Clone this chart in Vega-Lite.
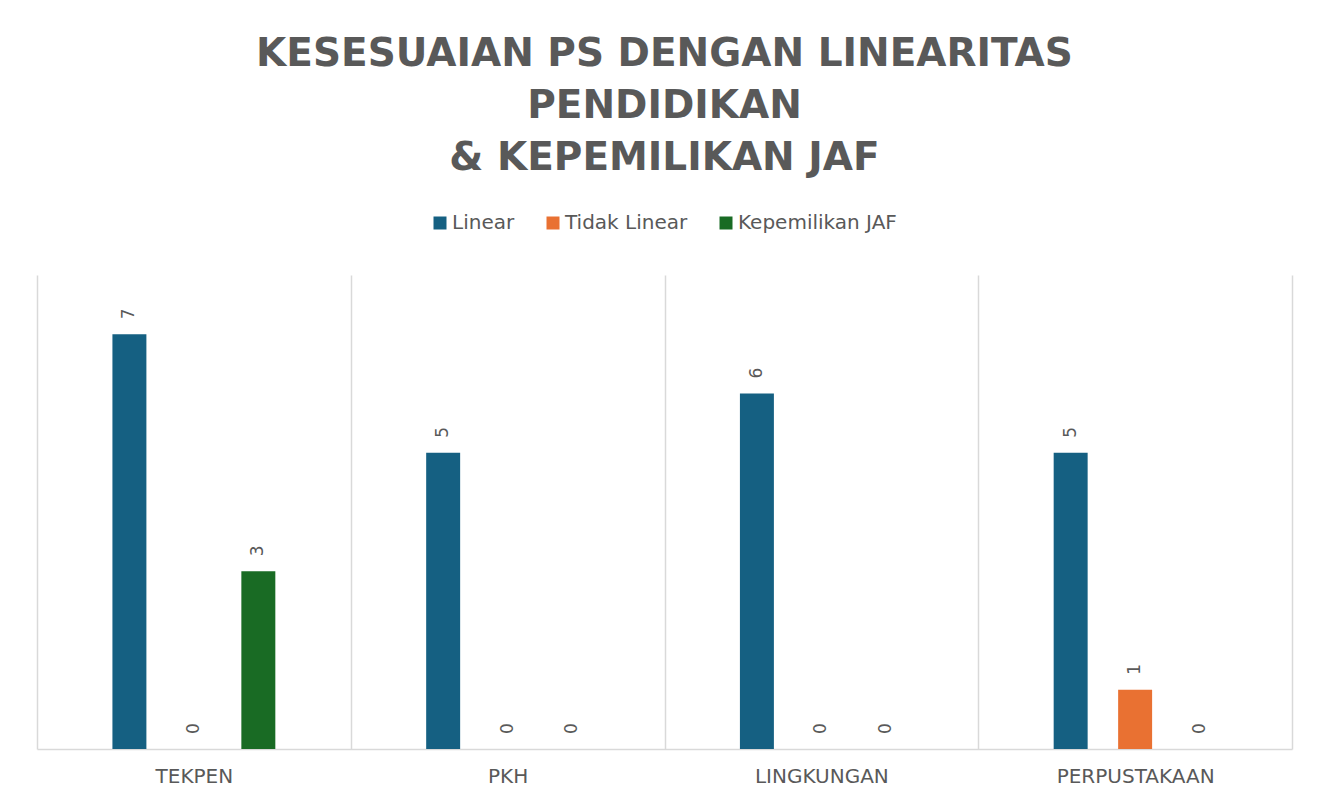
{
  "$schema": "https://vega.github.io/schema/vega-lite/v6.json",
  "width": 1255,
  "height": 474,
  "autosize": {"type": "none"},
  "padding": {"left": 37, "top": 275, "right": 35, "bottom": 53},
  "background": "white",
  "title": {
    "text": ["KESESUAIAN PS DENGAN LINEARITAS", "PENDIDIKAN", "& KEPEMILIKAN JAF"],
    "font": "DejaVu Sans",
    "fontSize": 39,
    "fontWeight": "bold",
    "color": "#595959",
    "lineHeight": 52,
    "anchor": "middle",
    "offset": 35
  },
  "config": {"view": {"stroke": null}},
  "data": {
    "values": [
      {"category": "TEKPEN", "series": "Linear", "value": 7},
      {"category": "TEKPEN", "series": "Tidak Linear", "value": 0},
      {"category": "TEKPEN", "series": "Kepemilikan JAF", "value": 3},
      {"category": "PKH", "series": "Linear", "value": 5},
      {"category": "PKH", "series": "Tidak Linear", "value": 0},
      {"category": "PKH", "series": "Kepemilikan JAF", "value": 0},
      {"category": "LINGKUNGAN", "series": "Linear", "value": 6},
      {"category": "LINGKUNGAN", "series": "Tidak Linear", "value": 0},
      {"category": "LINGKUNGAN", "series": "Kepemilikan JAF", "value": 0},
      {"category": "PERPUSTAKAAN", "series": "Linear", "value": 5},
      {"category": "PERPUSTAKAAN", "series": "Tidak Linear", "value": 1},
      {"category": "PERPUSTAKAAN", "series": "Kepemilikan JAF", "value": 0}
    ]
  },
  "encoding": {
    "x": {
      "field": "category",
      "type": "nominal",
      "sort": ["TEKPEN", "PKH", "LINGKUNGAN", "PERPUSTAKAAN"],
      "scale": {"paddingInner": 0, "paddingOuter": 0},
      "axis": {
        "title": null,
        "labelAngle": 0,
        "ticks": false,
        "tickBand": "extent",
        "grid": true,
        "gridColor": "#d9d9d9",
        "gridWidth": 1.5,
        "domainColor": "#d9d9d9",
        "domainWidth": 1.5,
        "labelFont": "DejaVu Sans",
        "labelFontSize": 20,
        "labelColor": "#595959",
        "labelPadding": 17
      }
    },
    "xOffset": {
      "field": "series",
      "type": "nominal",
      "scale": {
        "domain": ["pad-left", "Linear", "Tidak Linear", "Kepemilikan JAF", "pad-right"],
        "paddingInner": 0.473,
        "paddingOuter": 0.17
      }
    },
    "y": {
      "field": "value",
      "type": "quantitative",
      "scale": {"domain": [0, 8], "nice": false},
      "axis": null
    }
  },
  "layer": [
    {
      "mark": {"type": "bar"},
      "encoding": {
        "color": {
          "field": "series",
          "type": "nominal",
          "sort": ["Linear", "Tidak Linear", "Kepemilikan JAF"],
          "scale": {
            "domain": ["Linear", "Tidak Linear", "Kepemilikan JAF"],
            "range": ["#156082", "#E97132", "#196B24"]
          },
          "legend": {
            "title": null,
            "orient": "none",
            "legendX": 393,
            "legendY": -62,
            "direction": "horizontal",
            "columnPadding": 28,
            "labelOffset": 2,
            "symbolType": "square",
            "symbolSize": 169,
            "symbolStrokeWidth": 0,
            "labelFont": "DejaVu Sans",
            "labelFontSize": 20,
            "labelColor": "#595959"
          }
        }
      }
    },
    {
      "mark": {
        "type": "text",
        "angle": 270,
        "align": "left",
        "baseline": "middle",
        "dx": 15,
        "font": "DejaVu Sans",
        "fontSize": 17,
        "color": "#595959"
      },
      "encoding": {
        "text": {"field": "value", "type": "quantitative"}
      }
    }
  ]
}
